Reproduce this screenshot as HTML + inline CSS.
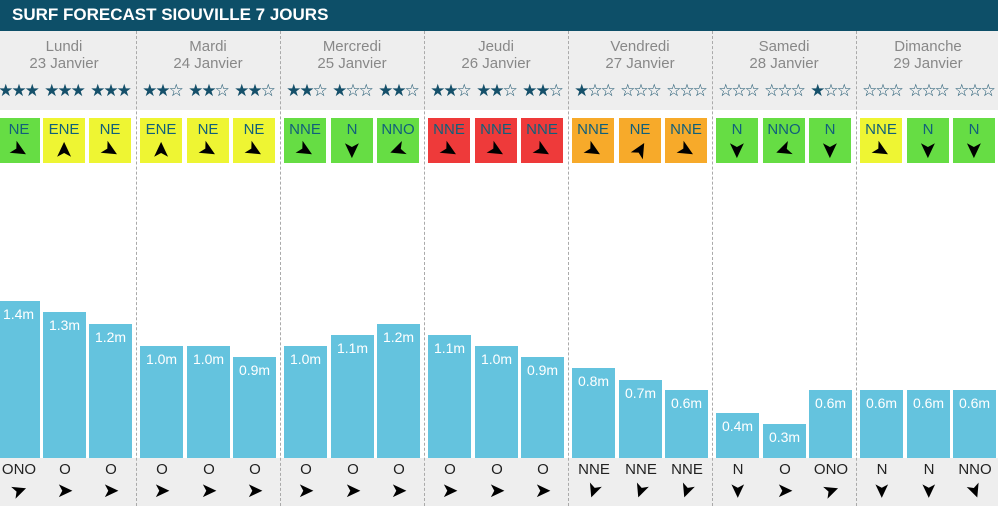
<!DOCTYPE html>
<html><head><meta charset="utf-8"><style>
*{margin:0;padding:0;box-sizing:border-box}
body{width:998px;height:506px;overflow:hidden;background:#fff;font-family:"Liberation Sans",sans-serif;position:relative}
.hd{position:absolute;left:0;top:0;width:998px;height:31px;background:#0d4f68;color:#fff;font-weight:bold;font-size:17px;line-height:30px;padding-left:12px}
.g1{position:absolute;left:0;top:31px;width:998px;height:79px;background:#eeeeee}
.g2{position:absolute;left:0;top:458px;width:998px;height:48px;background:#eeeeee}
.sep{position:absolute;top:31px;height:475px;border-left:1px dashed #aaa}
.day{position:absolute;top:38px;width:144px;text-align:center;color:#888;font-size:15px;line-height:17px}
.st{position:absolute;top:81px;width:46px;text-align:center;font-size:17px;color:#15506a;letter-spacing:-2px}
.w{position:absolute;top:118px;width:42px;height:45px;text-align:center;color:#11607a;font-size:15px;line-height:20px;padding-top:2px}
.a{display:block;font-size:22px;color:#000;line-height:20px}
.b{position:absolute;width:43px;background:#64c3de;color:#fff;font-size:14px;text-align:center;padding-top:5px}
.d{position:absolute;top:461px;width:44px;text-align:center;font-size:15px;color:#222}
.s{position:absolute;top:478px;width:44px;text-align:center;font-size:20px;color:#000}
.G{background:#66dd44}.Y{background:#eef533}.R{background:#ee3a3a}.O{background:#f7aa2a}
</style></head><body>
<div class="hd">SURF FORECAST SIOUVILLE 7 JOURS</div>
<div class="g1"></div><div class="g2"></div>
<div class="sep" style="left:136px"></div><div class="sep" style="left:280px"></div><div class="sep" style="left:424px"></div><div class="sep" style="left:568px"></div><div class="sep" style="left:712px"></div><div class="sep" style="left:856px"></div>

<div class="day" style="left:-8px">Lundi<br>23 Janvier</div>
<div class="day" style="left:136px">Mardi<br>24 Janvier</div>
<div class="day" style="left:280px">Mercredi<br>25 Janvier</div>
<div class="day" style="left:424px">Jeudi<br>26 Janvier</div>
<div class="day" style="left:568px">Vendredi<br>27 Janvier</div>
<div class="day" style="left:712px">Samedi<br>28 Janvier</div>
<div class="day" style="left:856px">Dimanche<br>29 Janvier</div>

<div class="st" style="left:-5px">★★★</div><div class="st" style="left:41px">★★★</div><div class="st" style="left:87px">★★★</div>
<div class="st" style="left:139px">★★☆</div><div class="st" style="left:185px">★★☆</div><div class="st" style="left:231px">★★☆</div>
<div class="st" style="left:283px">★★☆</div><div class="st" style="left:329px">★☆☆</div><div class="st" style="left:375px">★★☆</div>
<div class="st" style="left:427px">★★☆</div><div class="st" style="left:473px">★★☆</div><div class="st" style="left:519px">★★☆</div>
<div class="st" style="left:571px">★☆☆</div><div class="st" style="left:617px">☆☆☆</div><div class="st" style="left:663px">☆☆☆</div>
<div class="st" style="left:715px">☆☆☆</div><div class="st" style="left:761px">☆☆☆</div><div class="st" style="left:807px">★☆☆</div>
<div class="st" style="left:859px">☆☆☆</div><div class="st" style="left:905px">☆☆☆</div><div class="st" style="left:951px">☆☆☆</div>

<div class="w G" style="left:-2px">NE<span class="a" style="transform:rotate(30deg)">➤</span></div>
<div class="w Y" style="left:43px">ENE<span class="a" style="transform:rotate(-90deg)">➤</span></div>
<div class="w Y" style="left:89px">NE<span class="a" style="transform:rotate(30deg)">➤</span></div>
<div class="w Y" style="left:140px">ENE<span class="a" style="transform:rotate(-90deg)">➤</span></div>
<div class="w Y" style="left:187px">NE<span class="a" style="transform:rotate(30deg)">➤</span></div>
<div class="w Y" style="left:233px">NE<span class="a" style="transform:rotate(30deg)">➤</span></div>
<div class="w G" style="left:284px">NNE<span class="a" style="transform:rotate(30deg)">➤</span></div>
<div class="w G" style="left:331px">N<span class="a" style="transform:rotate(90deg)">➤</span></div>
<div class="w G" style="left:377px">NNO<span class="a" style="transform:rotate(160deg)">➤</span></div>
<div class="w R" style="left:428px">NNE<span class="a" style="transform:rotate(30deg)">➤</span></div>
<div class="w R" style="left:475px">NNE<span class="a" style="transform:rotate(30deg)">➤</span></div>
<div class="w R" style="left:521px">NNE<span class="a" style="transform:rotate(30deg)">➤</span></div>
<div class="w O" style="left:572px">NNE<span class="a" style="transform:rotate(30deg)">➤</span></div>
<div class="w O" style="left:619px">NE<span class="a" style="transform:rotate(-60deg)">➤</span></div>
<div class="w O" style="left:665px">NNE<span class="a" style="transform:rotate(30deg)">➤</span></div>
<div class="w G" style="left:716px">N<span class="a" style="transform:rotate(90deg)">➤</span></div>
<div class="w G" style="left:763px">NNO<span class="a" style="transform:rotate(160deg)">➤</span></div>
<div class="w G" style="left:809px">N<span class="a" style="transform:rotate(90deg)">➤</span></div>
<div class="w Y" style="left:860px">NNE<span class="a" style="transform:rotate(30deg)">➤</span></div>
<div class="w G" style="left:907px">N<span class="a" style="transform:rotate(90deg)">➤</span></div>
<div class="w G" style="left:953px">N<span class="a" style="transform:rotate(90deg)">➤</span></div>

<div class="b" style="left:-3px;top:301px;height:157px">1.4m</div>
<div class="b" style="left:43px;top:312px;height:146px">1.3m</div>
<div class="b" style="left:89px;top:324px;height:134px">1.2m</div>
<div class="b" style="left:140px;top:346px;height:112px">1.0m</div>
<div class="b" style="left:187px;top:346px;height:112px">1.0m</div>
<div class="b" style="left:233px;top:357px;height:101px">0.9m</div>
<div class="b" style="left:284px;top:346px;height:112px">1.0m</div>
<div class="b" style="left:331px;top:335px;height:123px">1.1m</div>
<div class="b" style="left:377px;top:324px;height:134px">1.2m</div>
<div class="b" style="left:428px;top:335px;height:123px">1.1m</div>
<div class="b" style="left:475px;top:346px;height:112px">1.0m</div>
<div class="b" style="left:521px;top:357px;height:101px">0.9m</div>
<div class="b" style="left:572px;top:368px;height:90px">0.8m</div>
<div class="b" style="left:619px;top:380px;height:78px">0.7m</div>
<div class="b" style="left:665px;top:390px;height:68px">0.6m</div>
<div class="b" style="left:716px;top:413px;height:45px">0.4m</div>
<div class="b" style="left:763px;top:424px;height:34px">0.3m</div>
<div class="b" style="left:809px;top:390px;height:68px">0.6m</div>
<div class="b" style="left:860px;top:390px;height:68px">0.6m</div>
<div class="b" style="left:907px;top:390px;height:68px">0.6m</div>
<div class="b" style="left:953px;top:390px;height:68px">0.6m</div>

<div class="d" style="left:-3px">ONO</div><div class="d" style="left:43px">O</div><div class="d" style="left:89px">O</div>
<div class="d" style="left:140px">O</div><div class="d" style="left:187px">O</div><div class="d" style="left:233px">O</div>
<div class="d" style="left:284px">O</div><div class="d" style="left:331px">O</div><div class="d" style="left:377px">O</div>
<div class="d" style="left:428px">O</div><div class="d" style="left:475px">O</div><div class="d" style="left:521px">O</div>
<div class="d" style="left:572px">NNE</div><div class="d" style="left:619px">NNE</div><div class="d" style="left:665px">NNE</div>
<div class="d" style="left:716px">N</div><div class="d" style="left:763px">O</div><div class="d" style="left:809px">ONO</div>
<div class="d" style="left:860px">N</div><div class="d" style="left:907px">N</div><div class="d" style="left:953px">NNO</div>

<div class="s" style="left:-3px;transform:rotate(-20deg)">➤</div><div class="s" style="left:43px">➤</div><div class="s" style="left:89px">➤</div>
<div class="s" style="left:140px">➤</div><div class="s" style="left:187px">➤</div><div class="s" style="left:233px">➤</div>
<div class="s" style="left:284px">➤</div><div class="s" style="left:331px">➤</div><div class="s" style="left:377px">➤</div>
<div class="s" style="left:428px">➤</div><div class="s" style="left:475px">➤</div><div class="s" style="left:521px">➤</div>
<div class="s" style="left:572px;transform:rotate(110deg)">➤</div><div class="s" style="left:619px;transform:rotate(110deg)">➤</div><div class="s" style="left:665px;transform:rotate(110deg)">➤</div>
<div class="s" style="left:716px;transform:rotate(90deg)">➤</div><div class="s" style="left:763px">➤</div><div class="s" style="left:809px;transform:rotate(-20deg)">➤</div>
<div class="s" style="left:860px;transform:rotate(90deg)">➤</div><div class="s" style="left:907px;transform:rotate(90deg)">➤</div><div class="s" style="left:953px;transform:rotate(70deg)">➤</div>
</body></html>
